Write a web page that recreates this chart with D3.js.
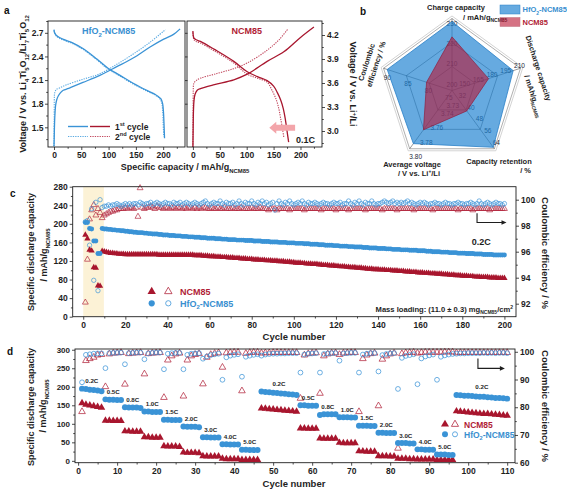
<!DOCTYPE html>
<html><head><meta charset="utf-8">
<script src="https://cdn.jsdelivr.net/npm/d3@7/dist/d3.min.js"></script>
<style>
html,body{margin:0;padding:0;background:#fff;}
svg{font-family:"Liberation Sans",Arial,Helvetica,sans-serif;font-weight:bold;}
</style></head><body>
<svg id="fig" width="567" height="491"></svg>
<script>
// ================= DATA =================
// ---- panel a : voltage profiles (capacity mAh/g, voltage V) ----
const aHfoDis1Cap = [0,1,4,10,20,35,53,78,99,121,145,170,185,191,196,199,200.5,201.5,202.5];
const aHfoDis1V   = [2.74,2.70,2.67,2.64,2.61,2.57,2.50,2.37,2.25,2.16,2.06,1.97,1.92,1.89,1.86,1.80,1.70,1.55,1.36];
const aHfoDis2Cap = [0,4,10,20,35,53,78,99,121,145,170,185,193,197,199,200,201];
const aHfoDis2V   = [2.73,2.66,2.63,2.60,2.56,2.49,2.36,2.24,2.15,2.05,1.96,1.91,1.87,1.82,1.72,1.55,1.38];
const aHfoCha1Cap = [0,0.5,1,2,3,5,8,12,17,25,32,53,84,115,145,176,201,219,231];
const aHfoCha1V   = [1.26,1.40,1.55,1.70,1.78,1.85,1.90,1.94,1.97,1.99,2.01,2.07,2.16,2.27,2.38,2.52,2.62,2.68,2.75];
const aHfoCha2Cap = [0,0.3,0.6,1,2,4,10,23,53,84,115,145,176,204];
const aHfoCha2V   = [1.26,1.60,1.88,1.93,1.95,1.98,2.00,2.04,2.11,2.18,2.30,2.43,2.58,2.74];
const aNcmDis1Cap = [0,0.5,2,6,14,40,76,101,120,138,150,157,163,168,172,175,178];
const aNcmDis1V   = [4.25,4.20,4.16,4.14,4.12,4.02,3.87,3.74,3.68,3.63,3.56,3.48,3.39,3.28,3.14,3.00,2.86];
const aNcmDis2Cap = [0,2,6,14,40,76,101,120,138,147,155,160,163,166,169];
const aNcmDis2V   = [4.23,4.14,4.12,4.10,4.00,3.85,3.71,3.66,3.61,3.51,3.39,3.27,3.16,3.05,2.92];
const aNcmCha1Cap = [0,0.5,1,2,4,8,14,40,76,101,138,169,200,225];
const aNcmCha1V   = [2.80,3.05,3.25,3.38,3.46,3.51,3.53,3.58,3.64,3.71,3.87,3.99,4.17,4.30];
const aNcmCha2Cap = [0,0.3,0.6,1,2,6,14,40,76,101,138,160,176];
const aNcmCha2V   = [2.80,3.20,3.50,3.57,3.60,3.63,3.66,3.71,3.78,3.85,4.01,4.14,4.27];
const aXTicks = [0,50,100,150,200];
const aYLTicks = [1.5,1.8,2.1,2.4,2.7];
const aYRTicks = [3.0,3.3,3.6,3.9,4.2];

// ---- panel b : radar ----
const radarNames = ["Charge capacity","Discharge capacity","Capacity retention","Average voltage","Coulombic efficiency"];
const radarMin = [195.7,135,24,3.72,74];
const radarMax = [231,210,64,3.80,90.7];
const radarHfo = [229.5,202,63,3.793,89.8];
const radarNcm = [222,175,38,3.774,80.2];
const radarTicks = [[200,210,220,230],[150,165,180,195,210],[32,40,48,56,64],[3.73,3.74,3.76,3.78,3.80],[75,80,85,90]];

// ---- panel c : long cycling at 0.2C (cycle 1..200) ----
const cCapNcm = [176,168,144,142,106,105,67,66,141,140,
139,138,137,137,136,136,135,135,135,134,
134,134,134,134,134,134,134,134,134,134,
134,134,134,134,134,133,133,133,133,133,
133,133,133,133,133,133,133,133,133,133,
133,133,132,132,132,132,131,131,131,130,
130,130,129,129,129,128,128,128,127,127,
127,126,126,126,125,125,125,124,124,124,
123,123,123,122,122,122,121,121,121,120,
120,120,119,119,119,118,118,118,117,117,
116,116,116,115,115,114,114,114,113,113,
113,112,112,111,111,111,110,110,110,109,
109,108,108,108,107,107,106,106,106,105,
105,105,104,104,103,103,103,102,102,102,
101,101,101,100,100,100,99,99,99,98,
98,98,97,97,97,96,96,96,95,95,
95,94,94,94,93,93,93,92,92,92,
91,91,91,90,90,90,89,89,89,88,
88,88,87,87,87,86,86,86,85,85,
85,85,84,84,84,84,83,83,83,83];
const cCapHfo = [203,203,190,189,163,163,136,136,190,189,
189,188,188,187,187,186,186,185,185,184,
184,183,183,182,182,181,181,181,180,180,
179,179,178,178,178,177,177,176,176,176,
175,175,175,174,174,174,173,173,173,172,
172,172,171,171,171,170,170,170,169,169,
169,169,168,168,168,167,167,167,166,166,
166,166,165,165,165,165,164,164,164,164,
163,163,163,163,162,162,162,162,161,161,
161,161,160,160,160,160,159,159,159,159,
158,158,158,158,157,157,157,156,156,156,
156,155,155,155,154,154,154,154,153,153,
153,152,152,152,152,151,151,151,150,150,
150,150,149,149,149,148,148,148,148,147,
147,147,147,146,146,146,145,145,145,145,
144,144,144,144,143,143,143,143,142,142,
142,142,141,141,141,140,140,140,140,139,
139,139,139,138,138,138,138,137,137,137,
137,136,136,136,136,135,135,135,135,134,
134,134,134,134,133,133,133,133,133,133];
const cCeNcm = [92.1,95.4,98.5,99.2,99.6,98.8,99.3,99.0,98.6,98.8,
98.9,99.0,99.1,99.1,99.2,99.2,99.3,99.3,99.3,99.4,
99.3,99.4,99.4,99.3,99.4,98.7,100.9,99.4,99.3,99.4,
99.4,99.5,99.4,99.3,99.5,99.4,99.4,99.3,99.4,99.4,
99.3,99.4,99.4,99.3,99.4,99.4,99.3,99.4,99.3,99.4,
99.4,99.3,99.4,99.3,99.4,99.3,99.4,99.4,99.3,99.3,
99.4,99.3,99.3,99.4,99.3,99.3,99.4,99.3,99.3,99.3,
99.4,99.3,99.3,99.3,99.4,99.3,99.3,99.3,99.3,99.4,
99.3,99.3,99.3,99.4,99.3,99.3,99.3,99.2,99.3,99.3,
99.3,99.2,99.3,99.3,99.3,99.3,99.3,99.2,99.3,99.3,
99.3,99.3,99.3,99.3,99.2,99.3,99.3,99.3,99.3,99.3,
99.3,99.3,99.2,99.3,99.3,99.3,99.3,99.3,99.3,99.2,
99.3,99.3,99.3,99.3,99.3,99.2,99.3,99.3,99.3,99.3,
99.3,99.3,99.3,99.2,99.3,99.3,99.3,99.3,99.3,99.3,
99.3,99.2,99.3,99.3,99.3,99.3,99.3,99.3,99.2,99.3,
99.3,99.3,99.3,99.3,99.3,99.3,99.2,99.3,99.3,99.3,
99.3,99.3,99.3,99.3,99.3,99.2,99.3,99.3,99.3,99.3,
99.3,99.3,99.3,99.3,99.3,99.3,99.3,99.2,99.3,99.3,
99.3,99.3,99.3,99.3,99.2,99.3,99.3,99.3,99.3,99.3,
99.3,99.3,99.2,99.3,99.3,99.3,99.3,99.3,99.3,99.3];
const cCeHfo = [98.3,98.4,96.5,99.3,93.8,99.8,93.0,100.0,99.4,99.5,
99.5,99.6,99.5,99.6,99.6,99.7,99.6,99.5,99.6,99.7,
99.6,99.7,99.6,99.7,99.7,99.6,99.8,99.7,99.6,99.7,
99.7,99.8,99.6,99.7,99.8,99.7,99.6,99.7,99.8,99.7,
99.7,99.6,99.8,99.7,99.7,99.8,99.6,99.7,99.8,99.7,
99.6,99.7,99.8,99.7,99.6,99.7,99.8,99.9,99.7,99.6,
99.7,99.8,99.7,99.7,99.9,99.7,99.6,99.8,99.7,99.7,
99.8,99.6,99.7,99.9,99.7,99.6,99.8,99.7,99.7,99.9,
99.7,99.6,99.8,99.7,99.9,99.7,99.8,99.6,99.7,99.8,
99.2,99.7,99.9,99.7,99.6,99.8,99.7,99.9,99.7,99.6,
99.7,99.8,99.7,99.9,99.7,99.6,99.8,99.7,99.7,99.8,
99.7,99.6,99.7,99.8,99.7,99.7,99.6,99.7,99.8,99.7,
99.7,99.8,99.6,99.7,99.7,99.9,99.7,99.6,99.8,99.7,
99.9,99.7,99.6,99.8,99.7,99.7,99.9,99.7,99.6,99.7,
99.7,99.8,99.9,99.8,99.7,99.8,99.9,99.7,99.8,99.7,
99.8,99.7,99.8,99.9,99.7,99.8,99.7,99.6,99.7,99.8,
99.7,99.8,99.7,99.6,99.7,99.7,99.8,99.7,99.7,99.6,
99.7,99.8,99.7,99.7,99.6,99.7,99.7,99.8,99.7,99.7,
99.6,99.7,99.7,99.8,99.7,99.6,99.7,99.9,99.7,99.6,
99.7,99.8,99.7,99.6,99.7,99.8,99.7,99.7,99.6,99.7];
const cShadeCycles = [0,9.8];
const cXTicks = [0,20,40,60,80,100,120,140,160,180,200];
const cYLTicks = [0,40,80,120,160,200,240,280];
const cYRTicks = [92,94,96,98,100];

// ---- panel d : rate capability (cycle 1..110) ----
const dCapHfo = [195,194,192,191,190,188,
166,165,165,164,164,
145,144,144,144,143,
133,133,132,132,132,
111,111,110,110,110,
93,92,92,92,91,
64,64,63,63,63,
45,45,44,44,44,
30,30,29,29,29,
187,186,185,184,183,182,181,180,179,178,
150,150,149,149,149,
124,126,126,126,126,
118,118,118,117,117,
95,95,95,94,94,
76,76,75,75,75,
48,48,48,47,47,
31,31,30,30,30,
17,17,17,16,16,
178,177,176,176,175,174,173,173,172,171,170,170,169,168];
const dCapNcm = [156,152,150,148,146,144,
109,109,108,108,108,
80,80,79,79,79,
64,64,63,63,63,
40,39,39,39,38,
23,22,22,22,21,
13,12,12,12,12,
6,5,5,5,5,
3,3,3,3,3,
142,141,140,139,138,137,136,135,134,133,
88,88,87,87,87,
61,60,60,60,60,
49,48,48,48,48,
26,26,25,25,25,
13,13,13,12,12,
6,6,6,5,5,
4,4,4,4,4,
3,3,3,3,3,
134,133,132,131,130,129,128,127,127,126,125,124,123,122];
const dCeHfo = [89.0,98.9,99.1,99.3,99.4,99.4,
94.1,99.5,99.6,99.6,99.7,
95.5,99.5,99.6,99.7,99.7,
97.3,99.4,99.6,99.7,99.7,
93.7,99.3,99.5,99.6,99.6,
93.7,98.9,99.3,99.4,99.5,
97.5,98.3,98.8,99.1,99.3,
89.9,98.0,98.6,98.9,99.1,
91.0,98.2,98.6,98.9,99.1,
98.6,99.0,99.2,99.3,99.3,99.4,99.4,99.5,99.5,99.5,
92.5,99.0,99.3,99.4,99.5,
92.5,99.2,99.4,99.5,99.5,
96.8,99.4,99.5,99.6,99.6,
92.5,99.0,99.3,99.5,99.5,
92.9,98.8,99.2,99.4,99.5,
86.6,97.8,98.5,98.8,99.1,
88.3,97.6,98.3,98.7,99.0,
89.9,98.2,98.7,99.0,99.2,
99.3,99.4,99.4,99.5,99.5,99.5,99.5,99.6,99.5,99.6,99.5,99.6,99.6,99.5];
const dCeNcm = [78.4,96.8,97.5,98.0,98.8,99.0,
87.4,99.2,99.5,99.6,99.7,
88.3,99.3,99.5,99.6,99.7,
92.0,99.3,99.5,99.6,99.7,
83.5,97.0,98.5,99.2,99.5,
84.0,97.0,98.5,99.0,99.3,
88.4,98.0,99.0,99.4,99.6,
94.4,99.6,99.7,99.8,99.8,
85.9,99.4,99.7,99.8,99.8,
99.5,99.6,99.6,99.7,99.7,99.7,99.7,99.7,99.7,99.7,
83.2,98.8,99.3,99.5,99.6,
85.0,98.5,99.2,99.5,99.6,
99.0,99.5,99.6,99.7,99.7,
78.4,97.5,98.8,99.3,99.5,
80.5,97.3,98.5,99.2,99.5,
65.2,99.3,99.6,99.7,99.8,
99.5,99.7,99.8,99.8,99.8,
99.8,99.8,99.9,99.9,99.9,
99.6,99.7,99.7,99.7,99.7,99.7,99.7,99.7,99.7,99.7,99.7,99.7,99.7,99.7];
const rateLabels = ["0.2C","0.5C","0.8C","1.0C","1.5C","2.0C","3.0C","4.0C","5.0C","0.2C","0.5C","0.8C","1.0C","1.5C","2.0C","3.0C","4.0C","5.0C","0.2C"];
const rateStart  = [1,7,12,17,22,27,32,37,42,47,57,62,67,72,77,82,87,92,97];
const rateEnd    = [6,11,16,21,26,31,36,41,46,56,61,66,71,76,81,86,91,96,110];
const dXTicks = [0,10,20,30,40,50,60,70,80,90,100,110];
const dYLTicks = [0,50,100,150,200,250,300];
const dYRTicks = [60,70,80,90,100];

// ================= DRAWING =================
const svg = d3.select("#fig");
const RED = "#a8162e", BLUE = "#3a93d6", REDT = "#b01c35", BLUET = "#3a8fd0", INK = "#1e1e1e";
const BFILL = "rgba(30,130,210,0.68)", RFILL = "rgba(185,20,50,0.6)";

function rich(parent, x, y, parts, fs, attrs) {
  const t = parent.append("text").attr("x", x).attr("y", y).attr("font-size", fs);
  if (attrs) for (const k in attrs) t.attr(k, attrs[k]);
  let shift = 0;
  parts.forEach(p => {
    const s = Array.isArray(p) ? p[0] : p, k = Array.isArray(p) ? p[1] : "n";
    const target = k === "sub" ? fs * 0.3 : k === "sup" ? -fs * 0.38 : 0;
    t.append("tspan").attr("dy", (target - shift).toFixed(2)).attr("font-size", k === "n" ? fs : fs * 0.66).text(s);
    shift = target;
  });
  return t;
}
function addAxis(gen, transform, fs) {
  const g = svg.append("g").attr("transform", transform).call(gen);
  g.attr("font-family", null).attr("font-size", fs).attr("font-weight", "bold");
  g.select(".domain").remove();
  g.selectAll(".tick line").attr("stroke", INK).attr("stroke-width", 0.8);
  g.selectAll(".tick text").attr("fill", INK);
  return g;
}
function frame(x0, y0, x1, y1) {
  svg.append("rect").attr("x", x0).attr("y", y0).attr("width", x1 - x0).attr("height", y1 - y0)
    .attr("fill", "none").attr("stroke", INK).attr("stroke-width", 0.9);
}
function plotPts(g, ys, X, Y, type, size, fill, stroke, sw) {
  g.selectAll(null).data(ys).join("path")
    .attr("d", d3.symbol().type(type).size(size))
    .attr("transform", (d, i) => `translate(${X(i + 1).toFixed(2)},${Y(d).toFixed(2)})`)
    .attr("fill", fill).attr("stroke", stroke).attr("stroke-width", sw);
}
function label(x, y, txt, fs) {
  svg.append("text").attr("x", x).attr("y", y).attr("font-size", fs).attr("fill", "#111").text(txt);
}

// panel letters
label(4, 14, "a", 10); label(360, 15, "b", 10); label(10, 197, "c", 10); label(7, 355, "d", 10);

// ---------- PANEL A ----------
const aX1 = d3.scaleLinear([-11, 240], [48, 185]);
const aX2 = d3.scaleLinear([-11, 240], [187, 322]);
const aYL = d3.scaleLinear([1.25, 2.85], [147, 21]);
const aYR = d3.scaleLinear([2.8, 4.375], [147, 21]);
svg.append("clipPath").attr("id", "clipA1").append("rect").attr("x", 48).attr("y", 21).attr("width", 137).attr("height", 126);
svg.append("clipPath").attr("id", "clipA2").append("rect").attr("x", 187).attr("y", 21).attr("width", 135).attr("height", 126);
const curve = (xs, ys, X, Y) => d3.line().curve(d3.curveCatmullRom.alpha(0.5))(xs.map((x, i) => [X(x), Y(ys[i])]));
const gA1 = svg.append("g").attr("clip-path", "url(#clipA1)");
const gA2 = svg.append("g").attr("clip-path", "url(#clipA2)");
const DOT = "1.3,1.1";
[[aHfoCha2Cap, aHfoCha2V, true], [aHfoDis2Cap, aHfoDis2V, true], [aHfoCha1Cap, aHfoCha1V, false], [aHfoDis1Cap, aHfoDis1V, false]].forEach(([xs, ys, dotted]) => {
  gA1.append("path").attr("d", curve(xs, ys, aX1, aYL)).attr("fill", "none")
    .attr("stroke", dotted ? "#5aaae2" : BLUE).attr("stroke-width", dotted ? 1.1 : 1.3)
    .attr("stroke-dasharray", dotted ? DOT : null);
});
[[aNcmCha2Cap, aNcmCha2V, true], [aNcmDis2Cap, aNcmDis2V, true], [aNcmCha1Cap, aNcmCha1V, false], [aNcmDis1Cap, aNcmDis1V, false]].forEach(([xs, ys, dotted]) => {
  gA2.append("path").attr("d", curve(xs, ys, aX2, aYR)).attr("fill", "none")
    .attr("stroke", dotted ? "#c2485e" : RED).attr("stroke-width", dotted ? 1.1 : 1.3)
    .attr("stroke-dasharray", dotted ? DOT : null);
});
addAxis(d3.axisBottom(aX1).tickValues(aXTicks).tickSize(3).tickPadding(1.5), "translate(0,147)", 8.5);
addAxis(d3.axisBottom(aX1).tickValues([25, 75, 125, 175, 225]).tickSize(1.8).tickFormat(""), "translate(0,147)", 8.5);
addAxis(d3.axisBottom(aX2).tickValues(aXTicks).tickSize(3).tickPadding(1.5), "translate(0,147)", 8.5);
addAxis(d3.axisBottom(aX2).tickValues([25, 75, 125, 175, 225]).tickSize(1.8).tickFormat(""), "translate(0,147)", 8.5);
addAxis(d3.axisLeft(aYL).tickValues(aYLTicks).tickSize(3).tickPadding(1.5).tickFormat(d3.format(".1f")), "translate(48,0)", 8.5);
addAxis(d3.axisLeft(aYL).tickValues([1.35, 1.65, 1.95, 2.25, 2.55, 2.85]).tickSize(1.8).tickFormat(""), "translate(48,0)", 8.5);
addAxis(d3.axisLeft(aYL).tickValues(aYLTicks).tickSize(-2.5).tickFormat(""), "translate(185,0)", 8.5);
addAxis(d3.axisRight(aYR).tickValues(aYRTicks).tickSize(3).tickPadding(2).tickFormat(d3.format(".1f")), "translate(322,0)", 8.5);
addAxis(d3.axisRight(aYR).tickValues([2.85, 3.15, 3.45, 3.75, 4.05, 4.35]).tickSize(1.8).tickFormat(""), "translate(322,0)", 8.5);
frame(48, 21, 185, 147); frame(187, 21, 322, 147);
rich(svg, aX1(100), 34, ["HfO", ["2", "sub"], "-NCM85"], 9, { "text-anchor": "middle", fill: BLUET });
svg.append("text").attr("x", aX2(100)).attr("y", 34).attr("text-anchor", "middle").attr("font-size", 9).attr("fill", REDT).text("NCM85");
// legend a
const legA = svg.append("g");
[[126.5, false], [136.5, true]].forEach(([y, dotted]) => {
  legA.append("line").attr("x1", 68).attr("x2", 88).attr("y1", y).attr("y2", y).attr("stroke", dotted ? "#5aaae2" : BLUE).attr("stroke-width", dotted ? 1.1 : 1.4).attr("stroke-dasharray", dotted ? DOT : null);
  legA.append("line").attr("x1", 90).attr("x2", 110).attr("y1", y).attr("y2", y).attr("stroke", dotted ? "#c2485e" : RED).attr("stroke-width", dotted ? 1.1 : 1.4).attr("stroke-dasharray", dotted ? DOT : null);
});
rich(legA, 115, 129.5, ["1", ["st", "sup"], " cycle"], 8.5, { fill: INK });
rich(legA, 115, 139.5, ["2", ["nd", "sup"], " cycle"], 8.5, { fill: INK });
// pink arrow + 0.1C
(function () {
  const xt = aX2(142), xb = aX2(155), xe = aX2(190), y = aYR(3.04);
  svg.append("path").attr("d", `M${xt},${y} L${xb},${y - 6} L${xb},${y - 3} L${xe},${y - 3} L${xe},${y + 3} L${xb},${y + 3} L${xb},${y + 6} Z`).attr("fill", "#f3a5aa");
})();
svg.append("text").attr("x", 296).attr("y", 143).attr("font-size", 9).attr("fill", INK).text("0.1C");
// axis titles a
rich(svg, 185, 170, ["Specific capacity / mAh/g", ["NCM85", "sub"]], 9, { "text-anchor": "middle", fill: INK });
rich(svg, 0, 0, ["Voltage / V vs. Li", ["4", "sub"], "Ti", ["5", "sub"], "O", ["12", "sub"], "/Li", ["7", "sub"], "Ti", ["5", "sub"], "O", ["12", "sub"]], 9,
  { "text-anchor": "middle", fill: INK, transform: "translate(26,84) rotate(-90)" });
rich(svg, 0, 0, ["Voltage / V vs. Li", ["+", "sup"], "/Li"], 9, { "text-anchor": "middle", fill: INK, transform: "translate(350,84) rotate(90)" });

// ---------- PANEL B (radar) ----------
const bcx = 452, bcy = 90.5, bR = 72;
const ang = i => (-90 + 72 * i) * Math.PI / 180;
const rScales = radarMin.map((m, i) => d3.scaleLinear([m, radarMax[i]], [0, bR]));
const pt = (i, r) => [bcx + r * Math.cos(ang(i)), bcy + r * Math.sin(ang(i))];
const gB = svg.append("g");
const pent = f => d3.range(5).map(i => pt(i, f * bR));
const lineClosed = d3.line().curve(d3.curveLinearClosed);
gB.append("path").attr("d", lineClosed(pent(1.035))).attr("fill", "none").attr("stroke", "#c8c8c8").attr("stroke-width", 0.8);
gB.append("path").attr("d", lineClosed(pent(1))).attr("fill", "#fff").attr("stroke", "#9a9a9a").attr("stroke-width", 0.8);
[1 / 3, 2 / 3].forEach(f => gB.append("path").attr("d", lineClosed(pent(f))).attr("fill", "none").attr("stroke", "#333").attr("stroke-width", 0.5));
d3.range(5).forEach(i => { const p = pt(i, bR); gB.append("line").attr("x1", bcx).attr("y1", bcy).attr("x2", p[0]).attr("y2", p[1]).attr("stroke", "#333").attr("stroke-width", 0.5); });
const tickOff = [[0, 2.5], [-1, -2.5], [2, -6.5], [6, 8], [1, 8]];
radarTicks.forEach((ts, i) => ts.forEach(v => {
  const p = pt(i, rScales[i](v));
  gB.append("text").attr("x", p[0] + tickOff[i][0]).attr("y", p[1] + tickOff[i][1]).attr("text-anchor", "middle")
    .attr("dominant-baseline", "central").attr("font-size", 6.5).attr("font-weight", "normal").attr("fill", "#1c2a3a")
    .text(i === 3 ? d3.format(".2f")(v) : v);
}));
gB.append("path").attr("d", lineClosed(radarHfo.map((v, i) => pt(i, rScales[i](v))))).attr("fill", BFILL).attr("stroke", "#2a80c8").attr("stroke-width", 0.8);
gB.append("path").attr("d", lineClosed(radarNcm.map((v, i) => pt(i, rScales[i](v))))).attr("fill", RFILL).attr("stroke", "#8e2040").attr("stroke-width", 0.7);
// axis titles b
const BF = 7.5;
svg.append("text").attr("x", 456).attr("y", 10).attr("text-anchor", "middle").attr("font-size", BF).attr("fill", INK).text("Charge capacity");
rich(svg, 463, 19.5, ["/ mAh/g", ["NCM85", "sub"]], BF, { fill: INK });
svg.append("text").attr("text-anchor", "middle").attr("font-size", BF).attr("fill", INK).attr("transform", "translate(536,69) rotate(72)").text("Discharge capacity");
rich(svg, 0, 0, ["/ mAh/g", ["NCM85", "sub"]], BF, { "text-anchor": "middle", fill: INK, transform: "translate(531,97) rotate(72)" });
svg.append("text").attr("x", 499).attr("y", 164).attr("text-anchor", "middle").attr("font-size", BF).attr("fill", INK).text("Capacity retention");
svg.append("text").attr("x", 531).attr("y", 172.5).attr("text-anchor", "end").attr("font-size", BF).attr("fill", INK).text("/ %");
svg.append("text").attr("x", 412).attr("y", 167).attr("text-anchor", "middle").attr("font-size", BF).attr("fill", INK).text("Average voltage");
rich(svg, 419, 175.5, ["/ V vs. Li", ["+", "sup"], "/Li"], BF, { "text-anchor": "middle", fill: INK });
svg.append("text").attr("text-anchor", "middle").attr("font-size", BF).attr("fill", INK).attr("transform", "translate(369,63) rotate(-72)").text("Coulombic");
svg.append("text").attr("text-anchor", "middle").attr("font-size", BF).attr("fill", INK).attr("transform", "translate(378.5,65) rotate(-72)").text("efficiency / %");
// legend b
svg.append("rect").attr("x", 500).attr("y", 5).attr("width", 20).attr("height", 9).attr("fill", BFILL).attr("stroke", "#2a80c8").attr("stroke-width", 0.5);
svg.append("rect").attr("x", 500).attr("y", 17.5).attr("width", 20).attr("height", 9).attr("fill", RFILL).attr("stroke", "#c07080").attr("stroke-width", 0.5);
rich(svg, 522.5, 12.3, ["HfO", ["2", "sub"], "-NCM85"], 7.5, { fill: BLUET });
svg.append("text").attr("x", 522.5).attr("y", 24.8).attr("font-size", 7.5).attr("fill", REDT).text("NCM85");

// ---------- PANEL C ----------
const cX = d3.scaleLinear([-5, 205.5], [72.7, 516]);
const cYL = d3.scaleLinear([0, 280], [316.7, 186.7]);
const cYR = d3.scaleLinear([91, 101], [316.7, 186.7]);
svg.append("rect").attr("x", cX(cShadeCycles[0])).attr("y", 187).attr("width", cX(cShadeCycles[1]) - cX(cShadeCycles[0])).attr("height", 129.5).attr("fill", "#fcf2d6");
const gC = svg.append("g");
plotPts(gC, cCeNcm, cX, cYR, d3.symbolTriangle, 15, "none", "#b3283f", 0.7);
plotPts(gC, cCeHfo, cX, cYR, d3.symbolCircle, 15, "none", "#3f95d8", 0.7);
plotPts(gC, cCapNcm, cX, cYL, d3.symbolTriangle, 17, RED, "none", 0);
plotPts(gC, cCapHfo, cX, cYL, d3.symbolCircle, 19, BLUE, "none", 0);
addAxis(d3.axisBottom(cX).tickValues(cXTicks).tickSize(3).tickPadding(2.5), "translate(0,316.7)", 8.5);
addAxis(d3.axisBottom(cX).tickValues(d3.range(10, 200, 20)).tickSize(1.8).tickFormat(""), "translate(0,316.7)", 8.5);
addAxis(d3.axisLeft(cYL).tickValues(cYLTicks).tickSize(3).tickPadding(2), "translate(72.7,0)", 8.5);
addAxis(d3.axisLeft(cYL).tickValues(d3.range(20, 280, 40)).tickSize(1.8).tickFormat(""), "translate(72.7,0)", 8.5);
addAxis(d3.axisRight(cYR).tickValues(cYRTicks).tickSize(3).tickPadding(2), "translate(516,0)", 8.5);
addAxis(d3.axisRight(cYR).tickValues([93, 95, 97, 99]).tickSize(1.8).tickFormat(""), "translate(516,0)", 8.5);
frame(72.7, 186.7, 516, 316.7);
svg.append("text").attr("x", 294).attr("y", 339.5).attr("text-anchor", "middle").attr("font-size", 9.5).attr("fill", INK).text("Cycle number");
svg.append("text").attr("text-anchor", "middle").attr("dominant-baseline", "central").attr("font-size", 9).attr("fill", INK).attr("transform", "translate(31,252) rotate(-90)").text("Specific discharge capacity");
rich(svg, 0, 0, ["/ mAh/g", ["NCM85", "sub"]], 9, { "text-anchor": "middle", fill: INK, transform: "translate(47,255) rotate(-90)" });
svg.append("text").attr("text-anchor", "middle").attr("font-size", 9.5).attr("fill", INK).attr("transform", "translate(542,253) rotate(90)").text("Coulombic efficiency / %");
// arrow c
svg.append("path").attr("d", `M${cX(187)},${cYR(98.95)} L${cX(187)},${cYR(98.25)} L${cX(199)},${cYR(98.25)}`).attr("fill", "none").attr("stroke", INK).attr("stroke-width", 1.1);
svg.append("path").attr("d", `M${cX(201)},${cYR(98.25)} l-5,-2.3 l0,4.6 Z`).attr("fill", INK);
svg.append("text").attr("x", cX(189)).attr("y", cYL(161)).attr("text-anchor", "middle").attr("dominant-baseline", "central").attr("font-size", 9).attr("fill", INK).text("0.2C");
rich(svg, 513, 312, ["Mass loading: (11.0 \u00b1 0.3) mg", ["NCM85", "sub"], "/cm", ["2", "sup"]], 7.6, { "text-anchor": "end", fill: INK });
// legend c
const legC = svg.append("g");
legC.append("path").attr("d", d3.symbol().type(d3.symbolTriangle).size(30)).attr("transform", "translate(151.7,291.5)").attr("fill", RED);
legC.append("path").attr("d", d3.symbol().type(d3.symbolTriangle).size(24)).attr("transform", "translate(168.3,291.5)").attr("fill", "none").attr("stroke", "#b3283f").attr("stroke-width", 0.8);
legC.append("path").attr("d", d3.symbol().type(d3.symbolCircle).size(30)).attr("transform", "translate(151.7,303.3)").attr("fill", BLUE);
legC.append("path").attr("d", d3.symbol().type(d3.symbolCircle).size(22)).attr("transform", "translate(168.3,303.3)").attr("fill", "none").attr("stroke", "#3f95d8").attr("stroke-width", 0.8);
legC.append("text").attr("x", 180).attr("y", 294.8).attr("font-size", 9).attr("fill", REDT).text("NCM85");
rich(legC, 180, 306.6, ["HfO", ["2", "sub"], "-NCM85"], 9, { fill: BLUET });

// ---------- PANEL D ----------
const dX = d3.scaleLinear([-0.8, 112], [75, 515]);
const dYL = d3.scaleLinear([-5, 302], [462.7, 349]);
const dYR = d3.scaleLinear([60, 101], [462.7, 349]);
const gD = svg.append("g");
plotPts(gD, dCeNcm, dX, dYR, d3.symbolTriangle, 19, "none", "#b3283f", 0.75);
plotPts(gD, dCeHfo, dX, dYR, d3.symbolCircle, 18, "none", "#3f95d8", 0.75);
plotPts(gD, dCapNcm, dX, dYL, d3.symbolTriangle, 24, RED, "none", 0);
plotPts(gD, dCapHfo, dX, dYL, d3.symbolCircle, 28, BLUE, "none", 0);
rateLabels.forEach((t, i) => {
  svg.append("text").attr("x", dX((rateStart[i] + rateEnd[i]) / 2)).attr("y", dYL(dCapHfo[rateStart[i] - 1]) - 8)
    .attr("text-anchor", "middle").attr("dominant-baseline", "central").attr("font-size", 6.2).attr("fill", INK).text(t);
});
addAxis(d3.axisBottom(dX).tickValues(dXTicks).tickSize(3).tickPadding(2.5), "translate(0,462.7)", 8.5);
addAxis(d3.axisBottom(dX).tickValues(d3.range(5, 111, 10)).tickSize(1.8).tickFormat(""), "translate(0,462.7)", 8.5);
addAxis(d3.axisLeft(dYL).tickValues(dYLTicks).tickSize(3).tickPadding(2), "translate(75,0)", 8);
addAxis(d3.axisLeft(dYL).tickValues(d3.range(25, 300, 50)).tickSize(1.8).tickFormat(""), "translate(75,0)", 8);
addAxis(d3.axisRight(dYR).tickValues(dYRTicks).tickSize(3).tickPadding(2), "translate(515,0)", 8.5);
addAxis(d3.axisRight(dYR).tickValues([65, 75, 85, 95]).tickSize(1.8).tickFormat(""), "translate(515,0)", 8.5);
frame(75, 349, 515, 462.7);
svg.append("text").attr("x", 294).attr("y", 487).attr("text-anchor", "middle").attr("font-size", 9.5).attr("fill", INK).text("Cycle number");
svg.append("text").attr("text-anchor", "middle").attr("dominant-baseline", "central").attr("font-size", 9).attr("fill", INK).attr("transform", "translate(31,407) rotate(-90)").text("Specific discharge capacity");
rich(svg, 0, 0, ["/ mAh/g", ["NCM85", "sub"]], 9, { "text-anchor": "middle", fill: INK, transform: "translate(46,406) rotate(-90)" });
svg.append("text").attr("text-anchor", "middle").attr("font-size", 9.5).attr("fill", INK).attr("transform", "translate(542,406) rotate(90)").text("Coulombic efficiency / %");
svg.append("path").attr("d", `M${dX(102.5)},${dYR(97.6)} L${dX(102.5)},${dYR(94)} L${dX(108.2)},${dYR(94)}`).attr("fill", "none").attr("stroke", INK).attr("stroke-width", 1.1);
svg.append("path").attr("d", `M${dX(109.4)},${dYR(94)} l-5,-2.3 l0,4.6 Z`).attr("fill", INK);
const legD = svg.append("g");
legD.append("path").attr("d", d3.symbol().type(d3.symbolTriangle).size(28)).attr("transform", "translate(445,424.3)").attr("fill", RED);
legD.append("path").attr("d", d3.symbol().type(d3.symbolTriangle).size(22)).attr("transform", "translate(455,424.3)").attr("fill", "none").attr("stroke", "#b3283f").attr("stroke-width", 0.8);
legD.append("path").attr("d", d3.symbol().type(d3.symbolCircle).size(28)).attr("transform", "translate(445,434.3)").attr("fill", BLUE);
legD.append("path").attr("d", d3.symbol().type(d3.symbolCircle).size(20)).attr("transform", "translate(455,434.3)").attr("fill", "none").attr("stroke", "#3f95d8").attr("stroke-width", 0.8);
legD.append("text").attr("x", 464).attr("y", 427.5).attr("font-size", 8.5).attr("fill", REDT).text("NCM85");
rich(legD, 464, 437.5, ["HfO", ["2", "sub"], "-NCM85"], 8.5, { fill: BLUET });
</script></body></html>
